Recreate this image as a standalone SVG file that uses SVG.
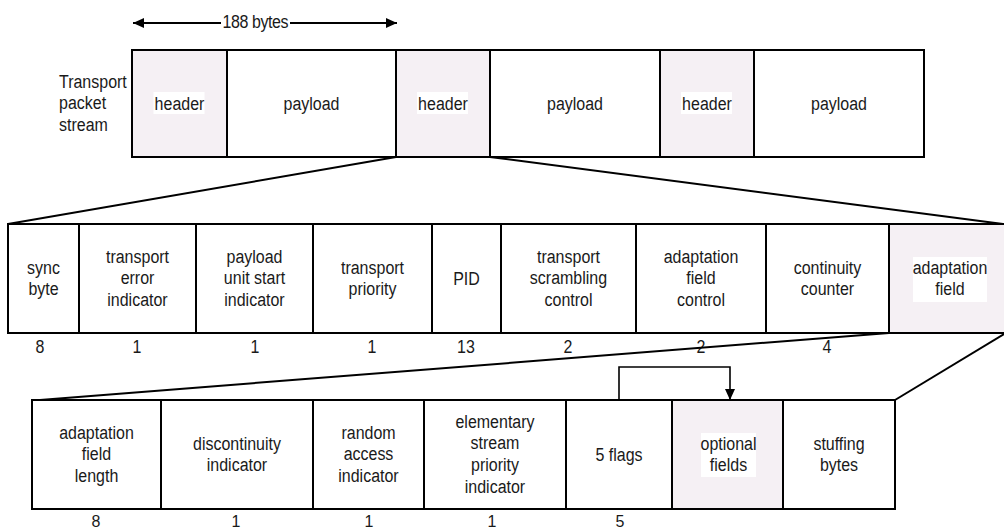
<svg xmlns="http://www.w3.org/2000/svg" width="1004" height="530" viewBox="0 0 1004 530">
  <style>
    .cell { fill: #ffffff; stroke: #000; stroke-width: 2; }
    .cell.hl { fill: #f5f0f4; }
    .bg { fill: #ffffff; stroke: none; }
    .t { font-family: "Liberation Sans", Arial, sans-serif; font-size: 16px; fill: #1a1a1a; text-anchor: middle; }
    .t.l { text-anchor: start; }
    .fan { stroke: #000; stroke-width: 2; fill: none; }
    .arr { stroke: #000; stroke-width: 2; fill: none; }
    .brk { stroke: #000; stroke-width: 1.6; fill: none; }
  </style>
  <defs>
    <marker id="head" viewBox="0 0 11 10" markerWidth="11" markerHeight="10" refX="11" refY="5" markerUnits="userSpaceOnUse" orient="auto">
      <path d="M0,0 L11,5 L0,10 z" fill="#000"/>
    </marker>
  </defs>

  <rect width="1004" height="530" fill="#ffffff"/>

  <!-- packet stream row -->
  <text id="stream-label" class="t l" transform="translate(59,87.5) scale(1,1.1)"><tspan x="0">Transport</tspan><tspan x="0" dy="20">packet</tspan><tspan x="0" dy="20">stream</tspan></text>

  <g id="pkt-header-1">
    <rect class="cell hl" x="132" y="50" width="95" height="107"/>
    <rect class="bg" x="153.5" y="92" width="51" height="22"/>
    <text class="t" transform="translate(179.5,109.5) scale(1,1.1)">header</text>
  </g>
  <g id="pkt-payload-1">
    <rect class="cell" x="227" y="50" width="169" height="107"/>
    <text class="t" transform="translate(311.5,109.5) scale(1,1.1)">payload</text>
  </g>
  <g id="pkt-header-2">
    <rect class="cell hl" x="396" y="50" width="94" height="107"/>
    <rect class="bg" x="417" y="92" width="51" height="22"/>
    <text class="t" transform="translate(443,109.5) scale(1,1.1)">header</text>
  </g>
  <g id="pkt-payload-2">
    <rect class="cell" x="490" y="50" width="170" height="107"/>
    <text class="t" transform="translate(575,109.5) scale(1,1.1)">payload</text>
  </g>
  <g id="pkt-header-3">
    <rect class="cell hl" x="660" y="50" width="94" height="107"/>
    <rect class="bg" x="681" y="92" width="51" height="22"/>
    <text class="t" transform="translate(707,109.5) scale(1,1.1)">header</text>
  </g>
  <g id="pkt-payload-3">
    <rect class="cell" x="754" y="50" width="170" height="107"/>
    <text class="t" transform="translate(839,109.5) scale(1,1.1)">payload</text>
  </g>

  <!-- header fields row -->
  <g id="f-sync">
    <rect class="cell" x="8" y="224" width="71" height="109"/>
    <text class="t" transform="translate(43.5,273.5) scale(1,1.1)"><tspan x="0">sync</tspan><tspan x="0" dy="20">byte</tspan></text>
  </g>
  <g id="f-tei">
    <rect class="cell" x="79" y="224" width="117" height="109"/>
    <text class="t" transform="translate(137.5,262.5) scale(1,1.1)"><tspan x="0">transport</tspan><tspan x="0" dy="20">error</tspan><tspan x="0" dy="20">indicator</tspan></text>
  </g>
  <g id="f-pusi">
    <rect class="cell" x="196" y="224" width="117" height="109"/>
    <text class="t" transform="translate(254.5,262.5) scale(1,1.1)"><tspan x="0">payload</tspan><tspan x="0" dy="20">unit start</tspan><tspan x="0" dy="20">indicator</tspan></text>
  </g>
  <g id="f-prio">
    <rect class="cell" x="313" y="224" width="119" height="109"/>
    <text class="t" transform="translate(372.5,273.5) scale(1,1.1)"><tspan x="0">transport</tspan><tspan x="0" dy="20">priority</tspan></text>
  </g>
  <g id="f-pid">
    <rect class="cell" x="432" y="224" width="69" height="109"/>
    <text class="t" transform="translate(466.5,284.5) scale(1,1.1)">PID</text>
  </g>
  <g id="f-tsc">
    <rect class="cell" x="501" y="224" width="135" height="109"/>
    <text class="t" transform="translate(568.5,262.5) scale(1,1.1)"><tspan x="0">transport</tspan><tspan x="0" dy="20">scrambling</tspan><tspan x="0" dy="20">control</tspan></text>
  </g>
  <g id="f-afc">
    <rect class="cell" x="636" y="224" width="130" height="109"/>
    <text class="t" transform="translate(701,262.5) scale(1,1.1)"><tspan x="0">adaptation</tspan><tspan x="0" dy="20">field</tspan><tspan x="0" dy="20">control</tspan></text>
  </g>
  <g id="f-cc">
    <rect class="cell" x="766" y="224" width="123" height="109"/>
    <text class="t" transform="translate(827.5,273.5) scale(1,1.1)"><tspan x="0">continuity</tspan><tspan x="0" dy="20">counter</tspan></text>
  </g>
  <g id="f-af">
    <rect class="cell hl" x="889" y="224" width="125" height="109"/>
    <rect class="bg" x="913" y="257" width="74" height="45"/>
    <text class="t" transform="translate(950,273.5) scale(1,1.1)"><tspan x="0">adaptation</tspan><tspan x="0" dy="20">field</tspan></text>
  </g>

  <!-- header field widths in bits -->
  <g id="header-bits">
    <text class="t" transform="translate(40,353) scale(1,1.1)">8</text>
    <text class="t" transform="translate(137,353) scale(1,1.1)">1</text>
    <text class="t" transform="translate(255,353) scale(1,1.1)">1</text>
    <text class="t" transform="translate(372,353) scale(1,1.1)">1</text>
    <text class="t" transform="translate(466,353) scale(1,1.1)">13</text>
    <text class="t" transform="translate(568,353) scale(1,1.1)">2</text>
    <text class="t" transform="translate(701,353) scale(1,1.1)">2</text>
    <text class="t" transform="translate(827,353) scale(1,1.1)">4</text>
  </g>

  <!-- adaptation field row -->
  <g id="a-len">
    <rect class="cell" x="32" y="400" width="129" height="109"/>
    <text class="t" transform="translate(96.5,438.5) scale(1,1.1)"><tspan x="0">adaptation</tspan><tspan x="0" dy="20">field</tspan><tspan x="0" dy="20">length</tspan></text>
  </g>
  <g id="a-disc">
    <rect class="cell" x="161" y="400" width="152" height="109"/>
    <text class="t" transform="translate(237,449.5) scale(1,1.1)"><tspan x="0">discontinuity</tspan><tspan x="0" dy="20">indicator</tspan></text>
  </g>
  <g id="a-rai">
    <rect class="cell" x="313" y="400" width="111" height="109"/>
    <text class="t" transform="translate(368.5,438.5) scale(1,1.1)"><tspan x="0">random</tspan><tspan x="0" dy="20">access</tspan><tspan x="0" dy="20">indicator</tspan></text>
  </g>
  <g id="a-espi">
    <rect class="cell" x="424" y="400" width="142" height="109"/>
    <text class="t" transform="translate(495,427.5) scale(1,1.1)"><tspan x="0">elementary</tspan><tspan x="0" dy="20">stream</tspan><tspan x="0" dy="20">priority</tspan><tspan x="0" dy="20">indicator</tspan></text>
  </g>
  <g id="a-flags">
    <rect class="cell" x="566" y="400" width="106" height="109"/>
    <text class="t" transform="translate(619,460.5) scale(1,1.1)">5 flags</text>
  </g>
  <g id="a-opt">
    <rect class="cell hl" x="672" y="400" width="111" height="109"/>
    <rect class="bg" x="701" y="433" width="55" height="44"/>
    <text class="t" transform="translate(728.5,449.5) scale(1,1.1)"><tspan x="0">optional</tspan><tspan x="0" dy="20">fields</tspan></text>
  </g>
  <g id="a-stuff">
    <rect class="cell" x="783" y="400" width="112" height="109"/>
    <text class="t" transform="translate(839,449.5) scale(1,1.1)"><tspan x="0">stuffing</tspan><tspan x="0" dy="20">bytes</tspan></text>
  </g>

  <!-- adaptation field widths in bits -->
  <g id="adapt-bits">
    <text class="t" transform="translate(96,526.5) scale(1,1.05)">8</text>
    <text class="t" transform="translate(236,526.5) scale(1,1.05)">1</text>
    <text class="t" transform="translate(369,526.5) scale(1,1.05)">1</text>
    <text class="t" transform="translate(492,526.5) scale(1,1.05)">1</text>
    <text class="t" transform="translate(620,526.5) scale(1,1.05)">5</text>
  </g>

  <!-- connectors -->
  <g id="connectors">
    <!-- packet length span -->
    <line class="arr" x1="221" y1="23" x2="133" y2="23" marker-end="url(#head)"/>
    <line class="arr" x1="290" y1="23" x2="397" y2="23" marker-end="url(#head)"/>
    <text class="t" transform="translate(255.5,28) scale(1,1.1)" textLength="66">188 bytes</text>
    <!-- header expands into its fields -->
    <line class="fan" x1="396" y1="157" x2="8" y2="224"/>
    <line class="fan" x1="490" y1="157" x2="1003" y2="224"/>
    <!-- adaptation field expands into its fields -->
    <line class="fan" x1="889" y1="333" x2="40" y2="400"/>
    <line class="fan" x1="1004" y1="334" x2="895" y2="400"/>
    <!-- flags select optional fields -->
    <polyline class="brk" points="619,400 619,367 730,367 730,400" marker-end="url(#head)"/>
  </g>
</svg>
